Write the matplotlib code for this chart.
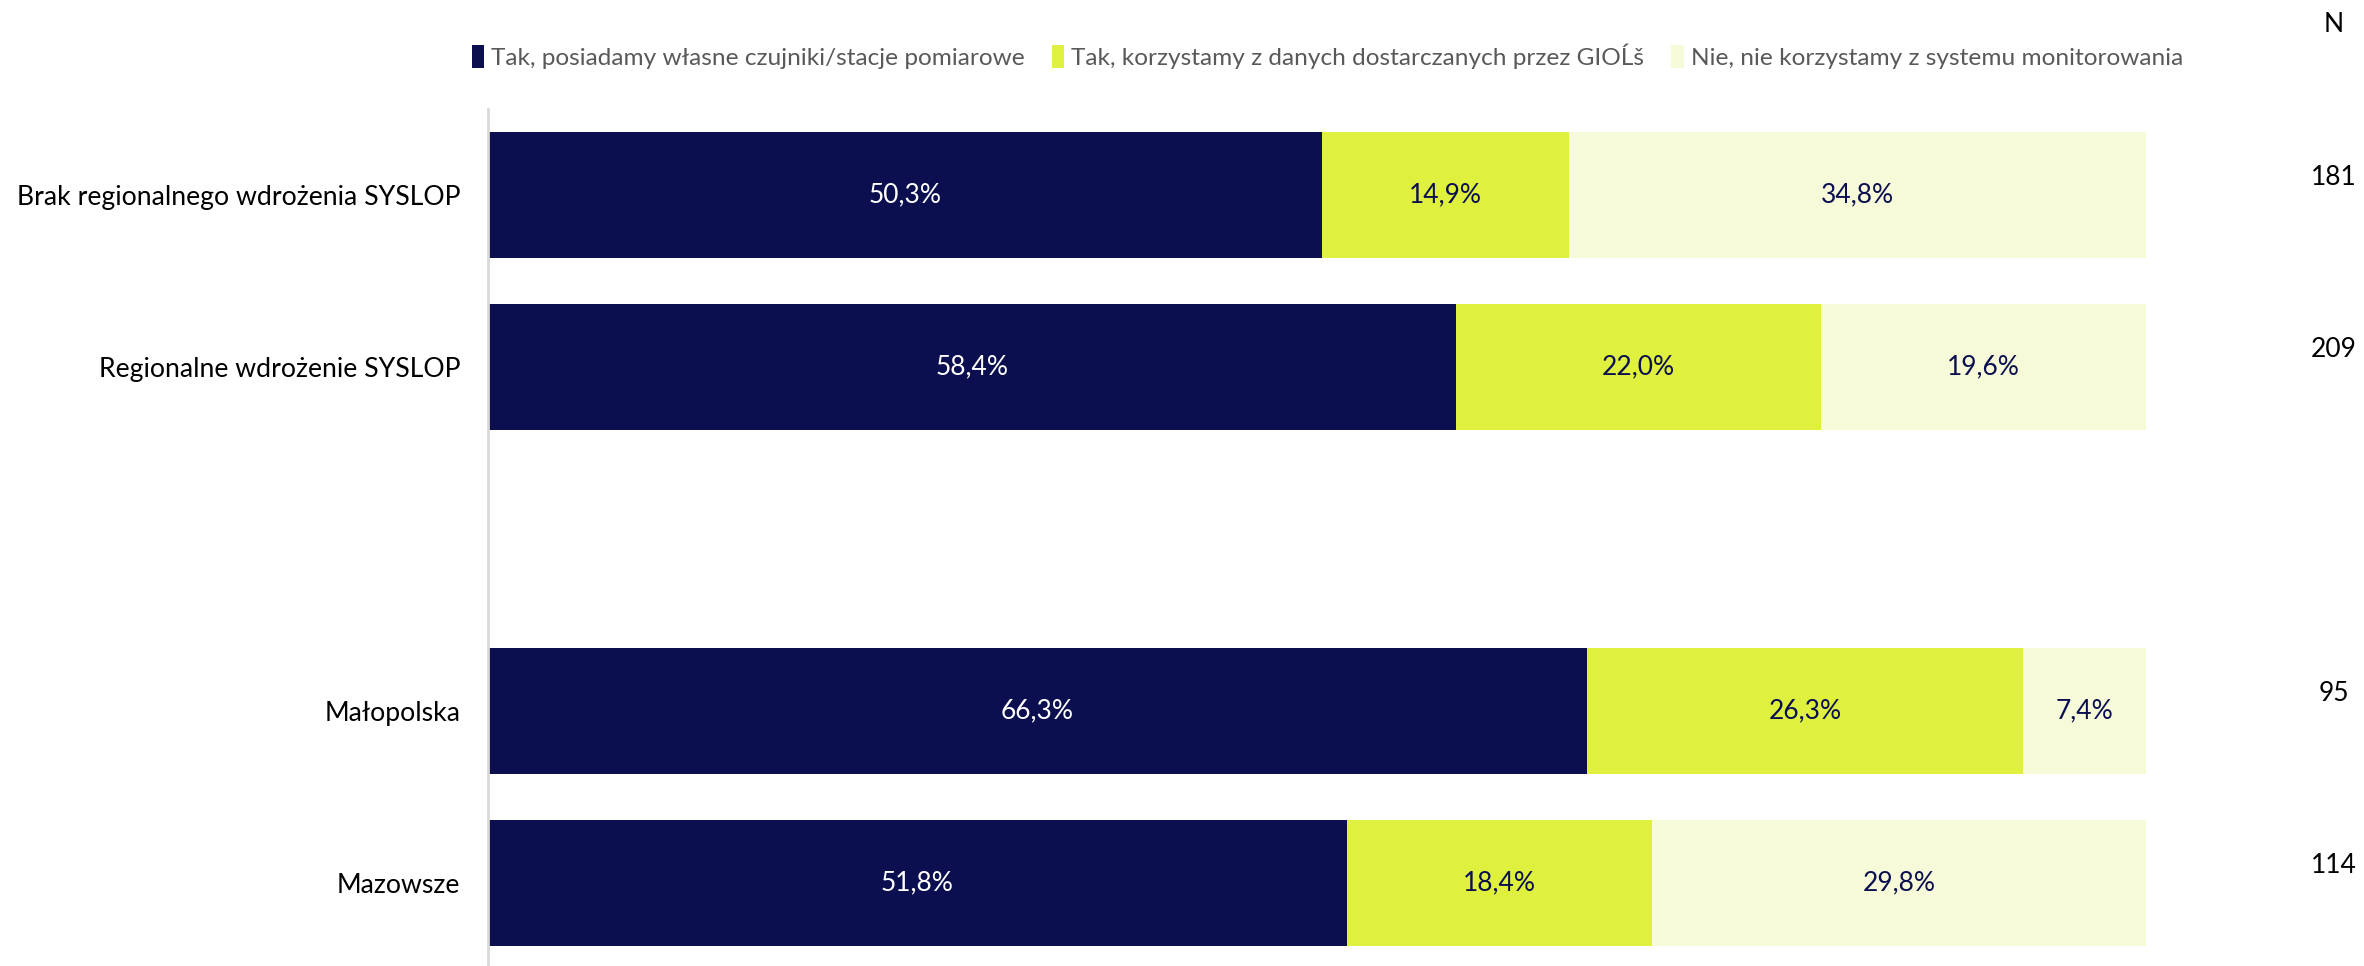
import matplotlib.pyplot as plt
import numpy as np

# data
categories = ["Brak regionalnego wdrożenia SYSLOP", "Regionalne wdrożenie SYSLOP", "",
              "Małopolska", "Mazowsze"]
own_sensors = [50.3, 58.4, None, 66.3, 51.8]
gios_data = [14.9, 22.0, None, 26.3, 18.4]
no_monitoring = [34.8, 19.6, None, 7.4, 29.8]
n_values = ["181", "209", "", "95", "114"]
series_names = ["Tak, posiadamy własne czujniki/stacje pomiarowe",
                "Tak, korzystamy z danych dostarczanych przez GIOĹš",
                "Nie, nie korzystamy z systemu monitorowania"]

colors = ["#0b0f50", "#dff03f", "#f6fad8"]
label_colors = ["white", "#0b0f50", "#0b0f50"]

plt.rcParams['font.family'] = ['Lato', 'DejaVu Sans']

fig = plt.figure(figsize=(23.64, 9.66), dpi=100)
ax = fig.add_axes([0.2064, 0.0, 0.7014, 0.887])

y = np.arange(len(categories))
left = np.zeros(len(categories))
for name, vals, col, lcol in zip(series_names, [own_sensors, gios_data, no_monitoring], colors, label_colors):
    v = np.array([0 if x is None else x for x in vals], dtype=float)
    ax.barh(y, v, left=left, height=0.733, color=col, label=name)
    for i, x in enumerate(vals):
        if x is None:
            continue
        ax.text(left[i] + x / 2, y[i], f"{x:.1f}%".replace(".", ","),
                ha="center", va="center", color=lcol, fontsize=19)
    left += v

# N column
for i, n in enumerate(n_values):
    ax.text(1.113, y[i] - 0.1, n, transform=ax.get_yaxis_transform(),
            ha="center", va="center", fontsize=19, color="black")
fig.text(2334 / 2364, 1 - 24 / 966, "N", ha="center", va="center", fontsize=19)

ax.set_xlim(0, 100)
ax.set_ylim(4.483, -0.5)
ax.set_yticks(y)
ax.set_yticklabels(categories, fontsize=19.2)
ax.tick_params(axis="y", length=0, pad=20)
ax.set_xticks([])
for s in ["top", "right", "bottom"]:
    ax.spines[s].set_visible(False)
ax.spines["left"].set_color("#d9d9d9")
ax.spines["left"].set_linewidth(2)

leg = fig.legend(loc="center", bbox_to_anchor=(0.5615, 1 - 56 / 966), ncol=3, frameon=False,
                 fontsize=17.6, handlelength=0.5, handleheight=1.1, handletextpad=0.3,
                 columnspacing=1.1)
for t in leg.get_texts():
    t.set_color("#595959")

fig.savefig("out.png", dpi=100)
